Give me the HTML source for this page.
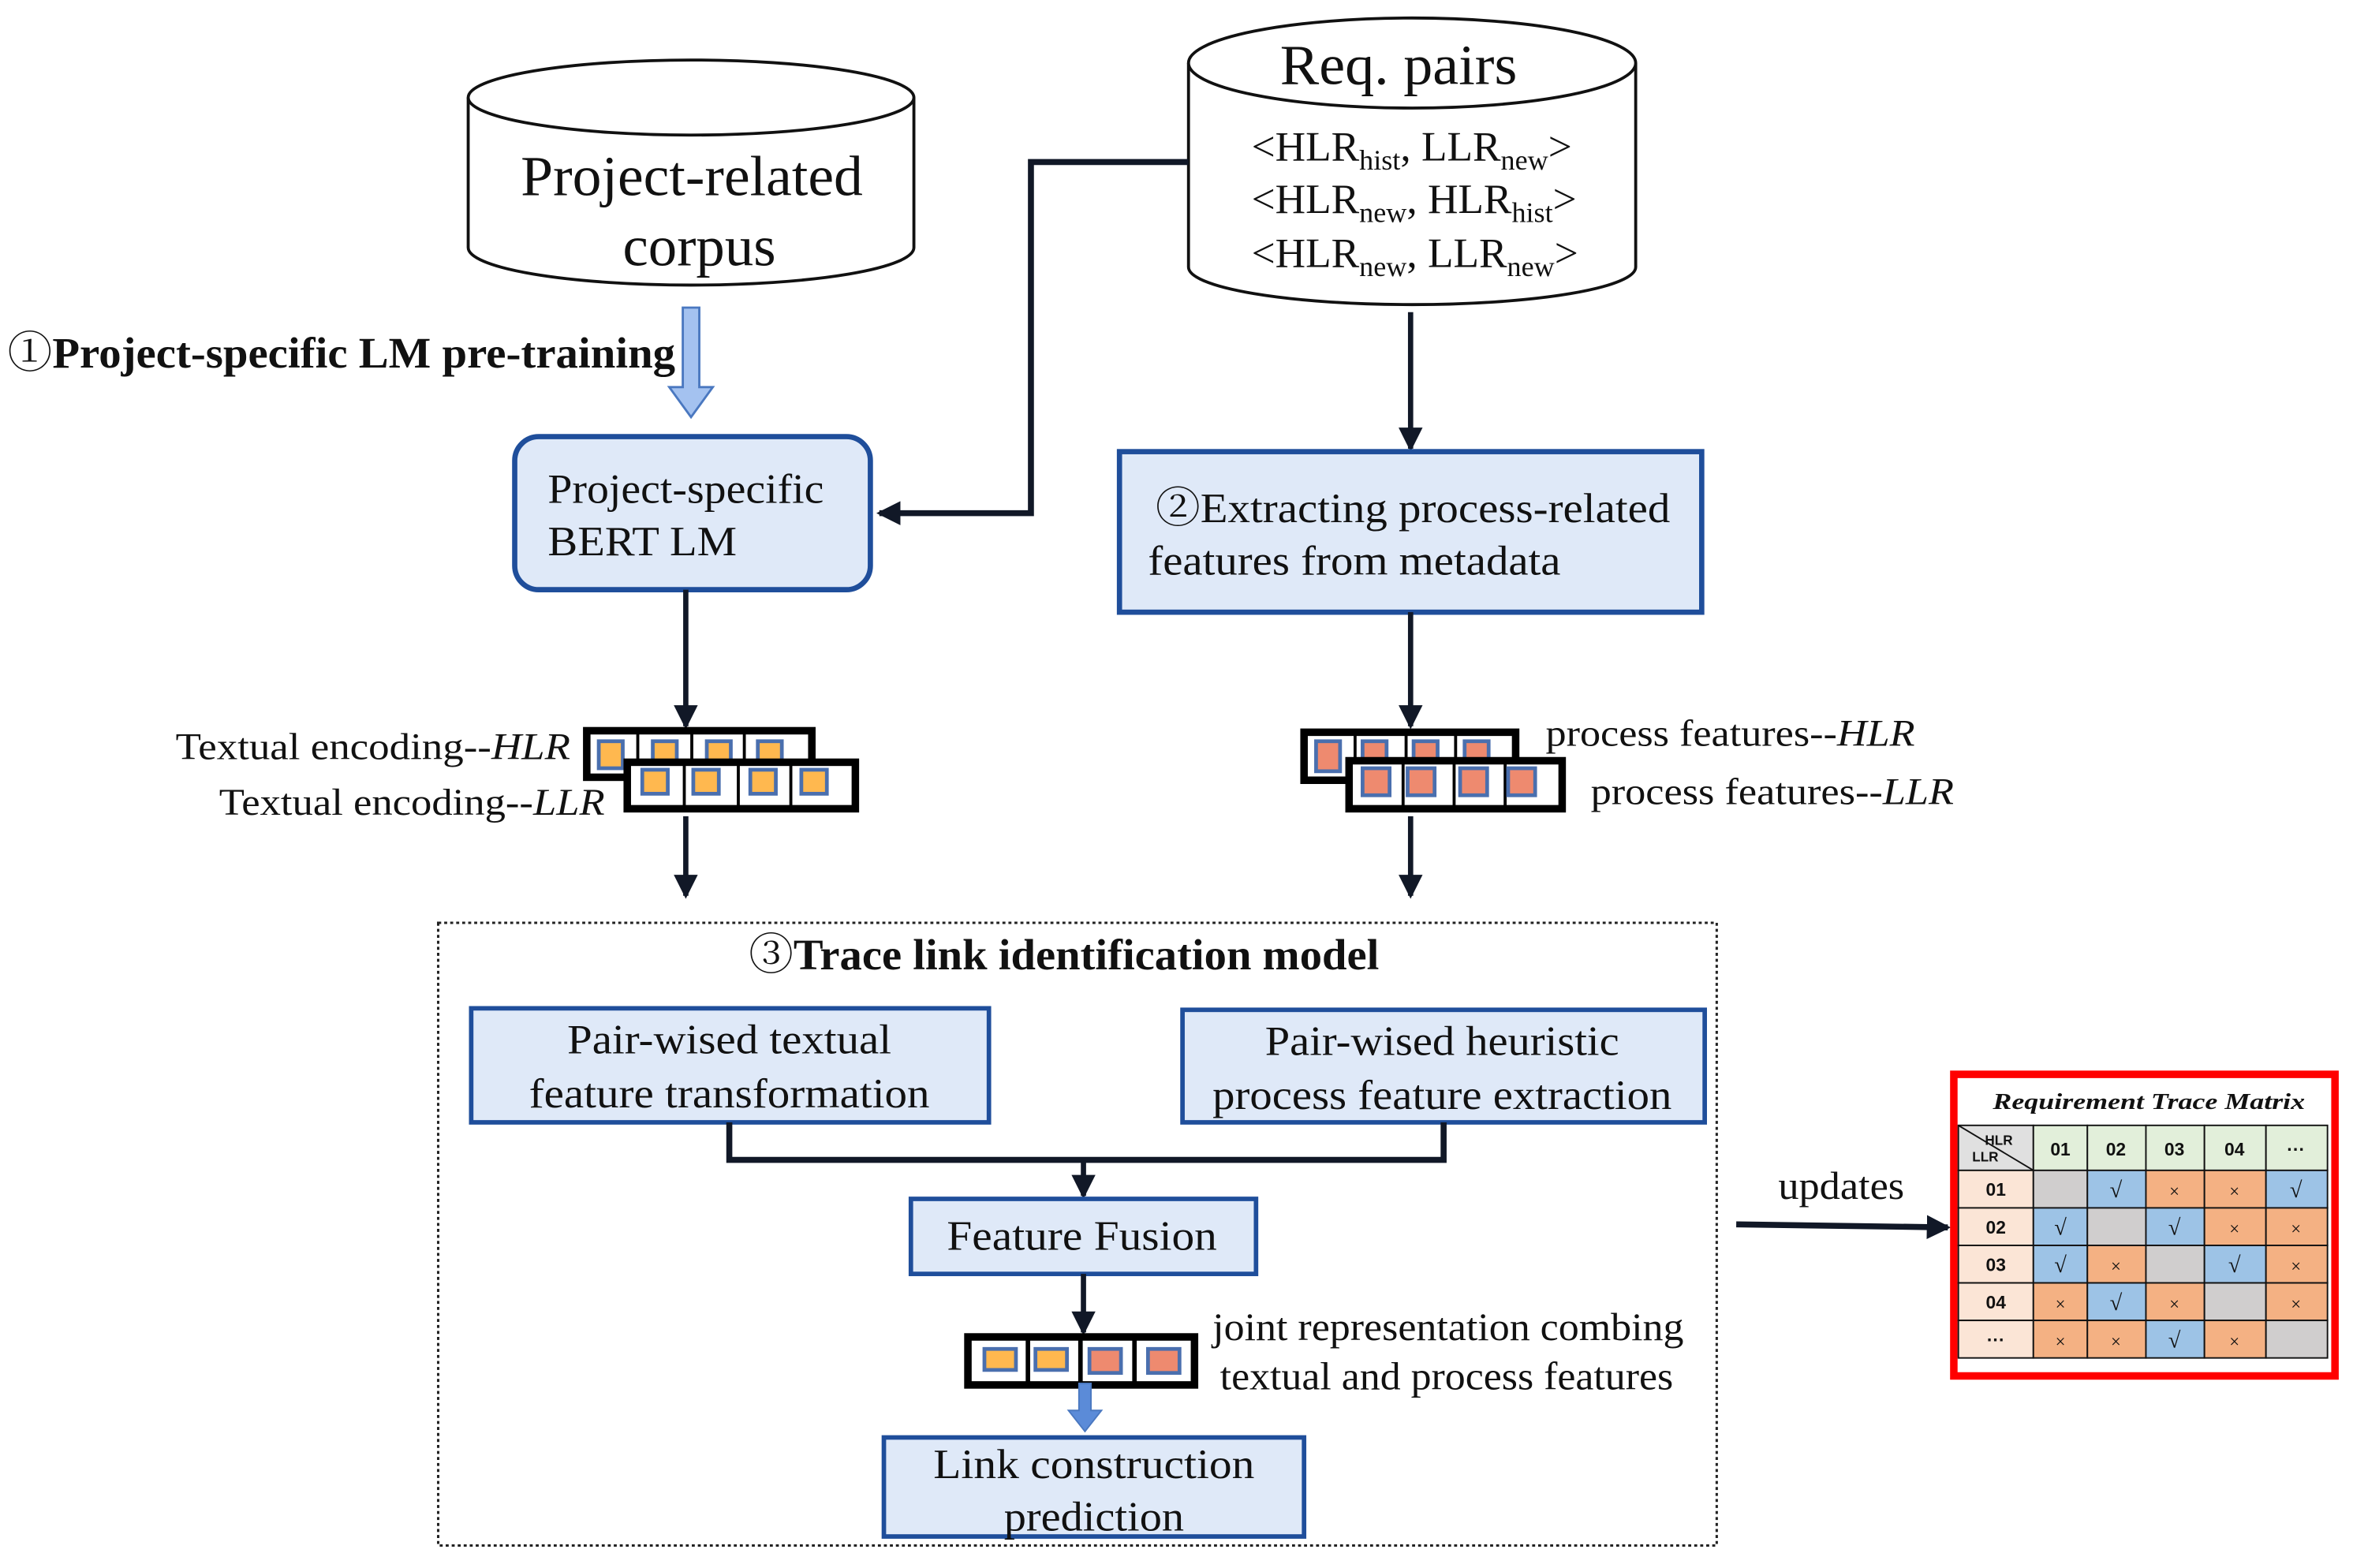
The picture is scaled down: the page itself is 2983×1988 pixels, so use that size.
<!DOCTYPE html>
<html><head><meta charset="utf-8"><style>
html,body{margin:0;padding:0;background:#fff;}
svg{display:block;}
text{font-family:"Liberation Serif",serif;fill:#111;}
.cj{font-family:"Noto Serif CJK SC","Noto Sans CJK SC",serif;font-weight:normal;}
</style></head><body>
<svg width="2983" height="1988" viewBox="0 0 1568 1045" preserveAspectRatio="none" xmlns="http://www.w3.org/2000/svg">
<defs>
<marker id="ah2" markerWidth="16" markerHeight="16" refX="14" refY="8" orient="auto" markerUnits="userSpaceOnUse" viewBox="0 0 16 16">
<path d="M0,0 L16,8 L0,16 Z" fill="#111827"/>
</marker>
</defs>

<path d="M312,65 L312,165 A148.5,25 0 0 0 609,165 L609,65" fill="#fff" stroke="#111" stroke-width="2"/>
<ellipse cx="460.5" cy="65" rx="148.5" ry="25" fill="#fff" stroke="#111" stroke-width="2"/>
<text x="461" y="130" font-size="38" text-anchor="middle" textLength="228" lengthAdjust="spacingAndGlyphs">Project-related</text>
<text x="466" y="177" font-size="38" text-anchor="middle" textLength="102" lengthAdjust="spacingAndGlyphs">corpus</text>

<path d="M792,42 L792,178 A149,25 0 0 0 1090,178 L1090,42" fill="#fff" stroke="#111" stroke-width="2"/>
<ellipse cx="941" cy="42" rx="149" ry="30" fill="#fff" stroke="#111" stroke-width="2"/>
<text x="932" y="56" font-size="38" text-anchor="middle" textLength="158" lengthAdjust="spacingAndGlyphs">Req. pairs</text>
<text x="834" y="107" font-size="28">&lt;HLR<tspan font-size="19" dy="6">hist</tspan><tspan dy="-6">, LLR</tspan><tspan font-size="19" dy="6">new</tspan><tspan dy="-6">&gt;</tspan></text>
<text x="834" y="142" font-size="28">&lt;HLR<tspan font-size="19" dy="6">new</tspan><tspan dy="-6">, HLR</tspan><tspan font-size="19" dy="6">hist</tspan><tspan dy="-6">&gt;</tspan></text>
<text x="834" y="178" font-size="28">&lt;HLR<tspan font-size="19" dy="6">new</tspan><tspan dy="-6">, LLR</tspan><tspan font-size="19" dy="6">new</tspan><tspan dy="-6">&gt;</tspan></text>

<text x="5" y="245" font-size="29" font-weight="bold" textLength="445" lengthAdjust="spacingAndGlyphs"><tspan class="cj">①</tspan>Project-specific LM pre-training</text>
<path d="M455,205 L466,205 L466,258 L475,258 L460.5,278 L446,258 L455,258 Z" fill="#a4c2f0" stroke="#4a78c0" stroke-width="1.5"/>

<rect x="343" y="291" width="237" height="102" rx="16" fill="#dfe9f8" stroke="#1f4e9b" stroke-width="3.5"/>
<text x="365" y="335" font-size="28" textLength="184" lengthAdjust="spacingAndGlyphs">Project-specific</text>
<text x="365" y="370" font-size="28" textLength="126" lengthAdjust="spacingAndGlyphs">BERT LM</text>

<polyline points="792,108 687,108 687,342 586,342" fill="none" stroke="#111827" stroke-width="4" marker-end="url(#ah2)"/>
<line x1="940" y1="208" x2="940" y2="299" stroke="#111827" stroke-width="3.5" marker-end="url(#ah2)"/>

<rect x="746" y="301" width="388" height="107" fill="#dfe9f8" stroke="#1f4e9b" stroke-width="3.5"/>
<text x="770" y="348" font-size="28" textLength="343" lengthAdjust="spacingAndGlyphs"><tspan class="cj">②</tspan>Extracting process-related</text>
<text x="765" y="383" font-size="28" textLength="275" lengthAdjust="spacingAndGlyphs">features from metadata</text>

<line x1="457" y1="393" x2="457" y2="484" stroke="#111827" stroke-width="3.5" marker-end="url(#ah2)"/>
<line x1="940" y1="408" x2="940" y2="484" stroke="#111827" stroke-width="3.5" marker-end="url(#ah2)"/>

<g>
<rect x="391" y="487" width="150" height="31" fill="#fff" stroke="#000" stroke-width="5"/>
<g stroke="#000" stroke-width="2"><line x1="425" y1="487" x2="425" y2="508"/><line x1="461" y1="487" x2="461" y2="508"/><line x1="496" y1="487" x2="496" y2="508"/></g>
<g fill="#ffb84f" stroke="#4a6fae" stroke-width="2.5">
<rect x="399" y="494" width="16" height="18"/><rect x="435" y="494" width="16" height="18"/><rect x="471" y="494" width="16" height="18"/><rect x="505" y="494" width="16" height="18"/>
</g>
<rect x="418" y="508" width="152" height="31" fill="#fff" stroke="#000" stroke-width="5"/>
<g stroke="#000" stroke-width="2"><line x1="456" y1="508" x2="456" y2="539"/><line x1="492" y1="508" x2="492" y2="539"/><line x1="527" y1="508" x2="527" y2="539"/></g>
<g fill="#ffb84f" stroke="#4a6fae" stroke-width="2.5">
<rect x="428" y="513" width="17" height="16"/><rect x="462" y="513" width="17" height="16"/><rect x="500" y="513" width="17" height="16"/><rect x="534" y="513" width="17" height="16"/>
</g>
</g>
<text x="380" y="506" font-size="25" text-anchor="end" textLength="263" lengthAdjust="spacingAndGlyphs">Textual encoding--<tspan font-style="italic">HLR</tspan></text>
<text x="403" y="543" font-size="25" text-anchor="end" textLength="257" lengthAdjust="spacingAndGlyphs">Textual encoding--<tspan font-style="italic">LLR</tspan></text>

<g>
<rect x="869" y="488" width="141" height="32" fill="#fff" stroke="#000" stroke-width="5"/>
<g stroke="#000" stroke-width="2"><line x1="903" y1="488" x2="903" y2="507"/><line x1="937" y1="488" x2="937" y2="507"/><line x1="970" y1="488" x2="970" y2="507"/></g>
<g fill="#ee8a6f" stroke="#4a6fae" stroke-width="2.5">
<rect x="877" y="494" width="16" height="20"/><rect x="908" y="494" width="16" height="20"/><rect x="942" y="494" width="16" height="20"/><rect x="976" y="494" width="16" height="20"/>
</g>
<rect x="899" y="507" width="142" height="32" fill="#fff" stroke="#000" stroke-width="5"/>
<g stroke="#000" stroke-width="2"><line x1="935" y1="507" x2="935" y2="539"/><line x1="969" y1="507" x2="969" y2="539"/><line x1="1003" y1="507" x2="1003" y2="539"/></g>
<g fill="#ee8a6f" stroke="#4a6fae" stroke-width="2.5">
<rect x="908" y="512" width="18" height="18"/><rect x="938" y="512" width="18" height="18"/><rect x="973" y="512" width="18" height="18"/><rect x="1005" y="512" width="18" height="18"/>
</g>
</g>
<text x="1030" y="497" font-size="25" textLength="246" lengthAdjust="spacingAndGlyphs">process features--<tspan font-style="italic">HLR</tspan></text>
<text x="1060" y="536" font-size="25" textLength="242" lengthAdjust="spacingAndGlyphs">process features--<tspan font-style="italic">LLR</tspan></text>

<line x1="457" y1="544" x2="457" y2="597" stroke="#111827" stroke-width="3.5" marker-end="url(#ah2)"/>
<line x1="940" y1="544" x2="940" y2="597" stroke="#111827" stroke-width="3.5" marker-end="url(#ah2)"/>

<rect x="292" y="615" width="852" height="415" fill="none" stroke="#222" stroke-width="1.6" stroke-dasharray="2,2"/>
<text x="709" y="646" font-size="29" font-weight="bold" text-anchor="middle" textLength="420" lengthAdjust="spacingAndGlyphs"><tspan class="cj">③</tspan>Trace link identification model</text>

<rect x="314" y="672" width="345" height="76" fill="#dfe9f8" stroke="#1f4e9b" stroke-width="3"/>
<text x="486" y="702" font-size="28" text-anchor="middle" textLength="216" lengthAdjust="spacingAndGlyphs">Pair-wised textual</text>
<text x="486" y="738" font-size="28" text-anchor="middle" textLength="267" lengthAdjust="spacingAndGlyphs">feature transformation</text>

<rect x="788" y="673" width="348" height="75" fill="#dfe9f8" stroke="#1f4e9b" stroke-width="3"/>
<text x="961" y="703" font-size="28" text-anchor="middle" textLength="236" lengthAdjust="spacingAndGlyphs">Pair-wised heuristic</text>
<text x="961" y="739" font-size="28" text-anchor="middle" textLength="306" lengthAdjust="spacingAndGlyphs">process feature extraction</text>

<polyline points="486,748 486,773 962,773 962,748" fill="none" stroke="#111827" stroke-width="4"/>
<line x1="722" y1="773" x2="722" y2="797" stroke="#111827" stroke-width="3.5" marker-end="url(#ah2)"/>

<rect x="607" y="799" width="230" height="50" fill="#dfe9f8" stroke="#1f4e9b" stroke-width="3"/>
<text x="721" y="833" font-size="28" text-anchor="middle" textLength="180" lengthAdjust="spacingAndGlyphs">Feature Fusion</text>

<line x1="722" y1="849" x2="722" y2="888" stroke="#111827" stroke-width="3.5" marker-end="url(#ah2)"/>

<rect x="645" y="891" width="151" height="32" fill="#fff" stroke="#000" stroke-width="5"/>
<g stroke="#000" stroke-width="3"><line x1="685" y1="891" x2="685" y2="923"/><line x1="720" y1="891" x2="720" y2="923"/><line x1="756" y1="891" x2="756" y2="923"/></g>
<g stroke="#4a6fae" stroke-width="2.5">
<rect x="656" y="899" width="21" height="14" fill="#ffb84f"/><rect x="690" y="899" width="21" height="14" fill="#ffb84f"/>
<rect x="726" y="899" width="21" height="16" fill="#ee8a6f"/><rect x="765" y="899" width="21" height="16" fill="#ee8a6f"/>
</g>
<path d="M719,922 L727,922 L727,940 L734,940 L723,954 L712,940 L719,940 Z" fill="#5b8bd8" stroke="#4a78c0" stroke-width="1"/>
<text x="808" y="893" font-size="26" textLength="314" lengthAdjust="spacingAndGlyphs">joint representation combing</text>
<text x="813" y="926" font-size="26" textLength="302" lengthAdjust="spacingAndGlyphs">textual and process features</text>

<rect x="589" y="958" width="280" height="66" fill="#dfe9f8" stroke="#1f4e9b" stroke-width="3"/>
<text x="729" y="985" font-size="28" text-anchor="middle" textLength="214" lengthAdjust="spacingAndGlyphs">Link construction</text>
<text x="729" y="1020" font-size="28" text-anchor="middle" textLength="120" lengthAdjust="spacingAndGlyphs">prediction</text>

<text x="1185" y="799" font-size="26" textLength="84" lengthAdjust="spacingAndGlyphs">updates</text>
<line x1="1157" y1="816" x2="1298" y2="818" stroke="#111827" stroke-width="4" marker-end="url(#ah2)"/>

<rect x="1302" y="716" width="254" height="201" fill="#fff" stroke="#ff0000" stroke-width="5"/>
<text x="1432" y="739" font-size="15" font-weight="bold" font-style="italic" text-anchor="middle" textLength="208" lengthAdjust="spacingAndGlyphs">Requirement Trace Matrix</text>
<g stroke="#111" stroke-width="1">
<rect x="1305" y="750" width="50" height="30" fill="#e0e0e0"/>
<rect x="1355" y="750" width="36" height="30" fill="#e2efda"/>
<rect x="1391" y="750" width="39" height="30" fill="#e2efda"/>
<rect x="1430" y="750" width="39" height="30" fill="#e2efda"/>
<rect x="1469" y="750" width="41" height="30" fill="#e2efda"/>
<rect x="1510" y="750" width="41" height="30" fill="#e2efda"/>
<line x1="1305" y1="750" x2="1355" y2="780"/>
<rect x="1305" y="780" width="50" height="25" fill="#fbe5d6"/>
<rect x="1305" y="805" width="50" height="25" fill="#fbe5d6"/>
<rect x="1305" y="830" width="50" height="25" fill="#fbe5d6"/>
<rect x="1305" y="855" width="50" height="25" fill="#fbe5d6"/>
<rect x="1305" y="880" width="50" height="25" fill="#fbe5d6"/>
<rect x="1355" y="780" width="36" height="25" fill="#d0cece"/><rect x="1391" y="780" width="39" height="25" fill="#9dc3e6"/><rect x="1430" y="780" width="39" height="25" fill="#f4b183"/><rect x="1469" y="780" width="41" height="25" fill="#f4b183"/><rect x="1510" y="780" width="41" height="25" fill="#9dc3e6"/>
<rect x="1355" y="805" width="36" height="25" fill="#9dc3e6"/><rect x="1391" y="805" width="39" height="25" fill="#d0cece"/><rect x="1430" y="805" width="39" height="25" fill="#9dc3e6"/><rect x="1469" y="805" width="41" height="25" fill="#f4b183"/><rect x="1510" y="805" width="41" height="25" fill="#f4b183"/>
<rect x="1355" y="830" width="36" height="25" fill="#9dc3e6"/><rect x="1391" y="830" width="39" height="25" fill="#f4b183"/><rect x="1430" y="830" width="39" height="25" fill="#d0cece"/><rect x="1469" y="830" width="41" height="25" fill="#9dc3e6"/><rect x="1510" y="830" width="41" height="25" fill="#f4b183"/>
<rect x="1355" y="855" width="36" height="25" fill="#f4b183"/><rect x="1391" y="855" width="39" height="25" fill="#9dc3e6"/><rect x="1430" y="855" width="39" height="25" fill="#f4b183"/><rect x="1469" y="855" width="41" height="25" fill="#d0cece"/><rect x="1510" y="855" width="41" height="25" fill="#f4b183"/>
<rect x="1355" y="880" width="36" height="25" fill="#f4b183"/><rect x="1391" y="880" width="39" height="25" fill="#f4b183"/><rect x="1430" y="880" width="39" height="25" fill="#9dc3e6"/><rect x="1469" y="880" width="41" height="25" fill="#f4b183"/><rect x="1510" y="880" width="41" height="25" fill="#d0cece"/>
</g>
<g font-size="12" font-weight="bold" text-anchor="middle">
<text x="1332" y="763" font-size="9" style="font-family:'Liberation Sans',sans-serif">HLR</text>
<text x="1323" y="774" font-size="9" style="font-family:'Liberation Sans',sans-serif">LLR</text>
<text x="1373" y="770" style="font-family:'Liberation Sans',sans-serif">01</text>
<text x="1410" y="770" style="font-family:'Liberation Sans',sans-serif">02</text>
<text x="1449" y="770" style="font-family:'Liberation Sans',sans-serif">03</text>
<text x="1489" y="770" style="font-family:'Liberation Sans',sans-serif">04</text>
<text x="1530" y="770" style="font-family:'Liberation Sans',sans-serif">···</text>
<text x="1330" y="797" style="font-family:'Liberation Sans',sans-serif">01</text>
<text x="1330" y="822" style="font-family:'Liberation Sans',sans-serif">02</text>
<text x="1330" y="847" style="font-family:'Liberation Sans',sans-serif">03</text>
<text x="1330" y="872" style="font-family:'Liberation Sans',sans-serif">04</text>
<text x="1330" y="897" style="font-family:'Liberation Sans',sans-serif">···</text>
</g>
<g font-size="15" text-anchor="middle">
<text x="1410" y="798">√</text><text x="1449" y="798" font-size="12" fill="#555">×</text><text x="1489" y="798" font-size="12" fill="#555">×</text><text x="1530" y="798">√</text>
<text x="1373" y="823">√</text><text x="1449" y="823">√</text><text x="1489" y="823" font-size="12" fill="#555">×</text><text x="1530" y="823" font-size="12" fill="#555">×</text>
<text x="1373" y="848">√</text><text x="1410" y="848" font-size="12" fill="#555">×</text><text x="1489" y="848">√</text><text x="1530" y="848" font-size="12" fill="#555">×</text>
<text x="1373" y="873" font-size="12" fill="#555">×</text><text x="1410" y="873">√</text><text x="1449" y="873" font-size="12" fill="#555">×</text><text x="1530" y="873" font-size="12" fill="#555">×</text>
<text x="1373" y="898" font-size="12" fill="#555">×</text><text x="1410" y="898" font-size="12" fill="#555">×</text><text x="1449" y="898">√</text><text x="1489" y="898" font-size="12" fill="#555">×</text>
</g>
</svg>
</body></html>
